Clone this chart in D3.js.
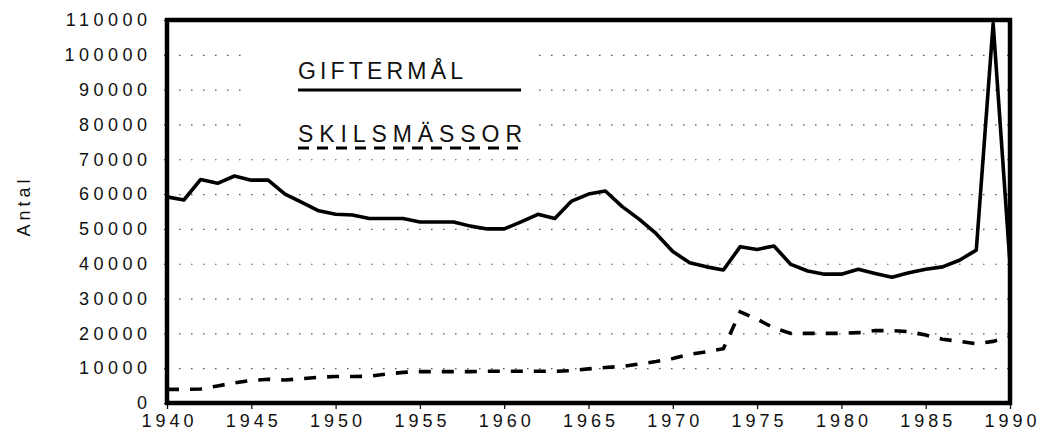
<!DOCTYPE html>
<html>
<head>
<meta charset="utf-8">
<script src="https://cdn.jsdelivr.net/npm/d3@7"></script>
<style>
  body { margin: 0; background: #fff; }
  svg text { font-family: "Liberation Sans", Arial, sans-serif; fill: #111; }
</style>
</head>
<body>
<div id="chart"></div>
<script>
// data
var years = d3.range(1940, 1991)
var giftermal = [59200, 58300, 64200, 63100, 65200, 64000, 64000, 60000, 57600, 55200,
  54200, 54000, 53000, 53000, 53000, 52000, 52000, 52000, 50800, 50000,
  50000, 52000, 54200, 53000, 58000, 60000, 60900, 56400, 52800, 48700,
  43500, 40300, 39100, 38200, 44900, 44100, 45100, 39800, 37900, 37000,
  37000, 38400, 37200, 36100, 37400, 38400, 39100, 41000, 43900, 109000,
  40000]
var skilsmassor = [3900, 3900, 4000, 4900, 5800, 6500, 6800, 6600, 7000, 7400,
  7600, 7600, 7700, 8300, 8800, 9000, 9000, 9000, 9000, 9100,
  9100, 9100, 9100, 9100, 9300, 9800, 10200, 10500, 11200, 11900,
  12800, 14000, 14700, 15600, 26200, 24100, 21500, 20000, 20000, 20000,
  20000, 20200, 20800, 20800, 20500, 19500, 18300, 17700, 17000, 17700,
  19000]
var xTicks = [1940, 1945, 1950, 1955, 1960, 1965, 1970, 1975, 1980, 1985, 1990]
var yTicks = d3.range(0, 110001, 10000)
var legendLabels = ["GIFTERMÅL", "SKILSMÄSSOR"]

var width = 1041, height = 440
var margin = { top: 20, right: 31, bottom: 37, left: 167 }

var svg = d3.select("#chart")
  .append("svg")
  .attr("width", width)
  .attr("height", height)

var xScale = d3.scaleLinear()
  .domain([1940, 1990])
  .range([margin.left, width - margin.right])

var yScale = d3.scaleLinear()
  .domain([0, 110000])
  .range([height - margin.bottom, margin.top])

// dotted grid
var yGrid = d3.axisLeft(yScale)
  .tickValues(yTicks.filter(d => d > 0 && d < 110000))
  .tickSize(-(width - margin.left - margin.right))
  .tickFormat("")

svg.append("g")
  .attr("class", "grid")
  .attr("transform", `translate(${margin.left},0)`)
  .call(yGrid)
  .call(g => g.select(".domain").remove())
  .selectAll("line")
  .style("stroke", "#555")
  .style("stroke-width", 1.2)
  .style("stroke-dasharray", "1.5,10.5")

// white patch behind the legend
svg.append("rect")
  .attr("x", 245)
  .attr("y", 45)
  .attr("width", 290)
  .attr("height", 95)
  .attr("fill", "white")

// Y axis
var yAxis = d3.axisLeft(yScale)
  .tickValues(yTicks)
  .tickSize(3)
  .tickFormat(d => d)

svg.append("g")
  .attr("transform", `translate(${margin.left},0)`)
  .attr("class", "y-axis")
  .call(yAxis)
  .call(g => g.select(".domain").remove())
  .call(g => g.selectAll("line").style("stroke", "#111"))
  .selectAll("text")
  .attr("x", -15.5)
  .style("font-size", "18px")
  .style("letter-spacing", "4.5px")

// X axis
var xAxis = d3.axisBottom(xScale)
  .tickValues(xTicks)
  .tickSize(6)
  .tickFormat(d => d)

svg.append("g")
  .attr("transform", `translate(0,${height - margin.bottom})`)
  .attr("class", "x-axis")
  .call(xAxis)
  .call(g => g.select(".domain").remove())
  .call(g => g.selectAll("line").style("stroke", "#111").style("stroke-width", 1.3))
  .selectAll("text")
  .attr("y", 11)
  .attr("dx", "2px")
  .style("font-size", "18px")
  .style("letter-spacing", "4px")

// axis title
svg.append("text")
  .attr("transform", "translate(30,208) rotate(-90)")
  .attr("text-anchor", "middle")
  .attr("dx", "2px")
  .style("font-size", "18px")
  .style("letter-spacing", "4px")
  .text("Antal")

// lines
var line = d3.line()
  .x((d, i) => xScale(years[i]))
  .y(d => yScale(d))

svg.append("clipPath")
  .attr("id", "plot-clip")
  .append("rect")
  .attr("x", margin.left)
  .attr("y", margin.top)
  .attr("width", width - margin.left - margin.right)
  .attr("height", height - margin.top - margin.bottom)

svg.append("path")
  .datum(skilsmassor)
  .attr("d", line)
  .attr("clip-path", "url(#plot-clip)")
  .style("fill", "none")
  .style("stroke", "#000")
  .style("stroke-width", 3.6)
  .style("stroke-dasharray", "12,11")

svg.append("path")
  .datum(giftermal)
  .attr("d", line)
  .attr("clip-path", "url(#plot-clip)")
  .style("fill", "none")
  .style("stroke", "#000")
  .style("stroke-width", 3.6)
  .style("stroke-linejoin", "round")

// frame
svg.append("rect")
  .attr("x", margin.left)
  .attr("y", margin.top)
  .attr("width", width - margin.left - margin.right)
  .attr("height", height - margin.top - margin.bottom)
  .style("fill", "none")
  .style("stroke", "#000")
  .style("stroke-width", 4.5)

// legend
var legend = svg.append("g")
  .attr("class", "legend")

legend.append("text")
  .attr("x", 298)
  .attr("y", 79)
  .attr("textLength", 165)
  .attr("lengthAdjust", "spacing")
  .style("font-size", "23px")
  .text(legendLabels[0])

legend.append("line")
  .attr("x1", 298)
  .attr("x2", 521)
  .attr("y1", 90)
  .attr("y2", 90)
  .style("stroke", "#000")
  .style("stroke-width", 3.2)

legend.append("text")
  .attr("x", 298)
  .attr("y", 142)
  .attr("textLength", 224)
  .attr("lengthAdjust", "spacing")
  .style("font-size", "23px")
  .text(legendLabels[1])

legend.append("line")
  .attr("x1", 298)
  .attr("x2", 522)
  .attr("y1", 148)
  .attr("y2", 148)
  .style("stroke", "#000")
  .style("stroke-width", 3.2)
  .style("stroke-dasharray", "11,8")
</script>
</body>
</html>
